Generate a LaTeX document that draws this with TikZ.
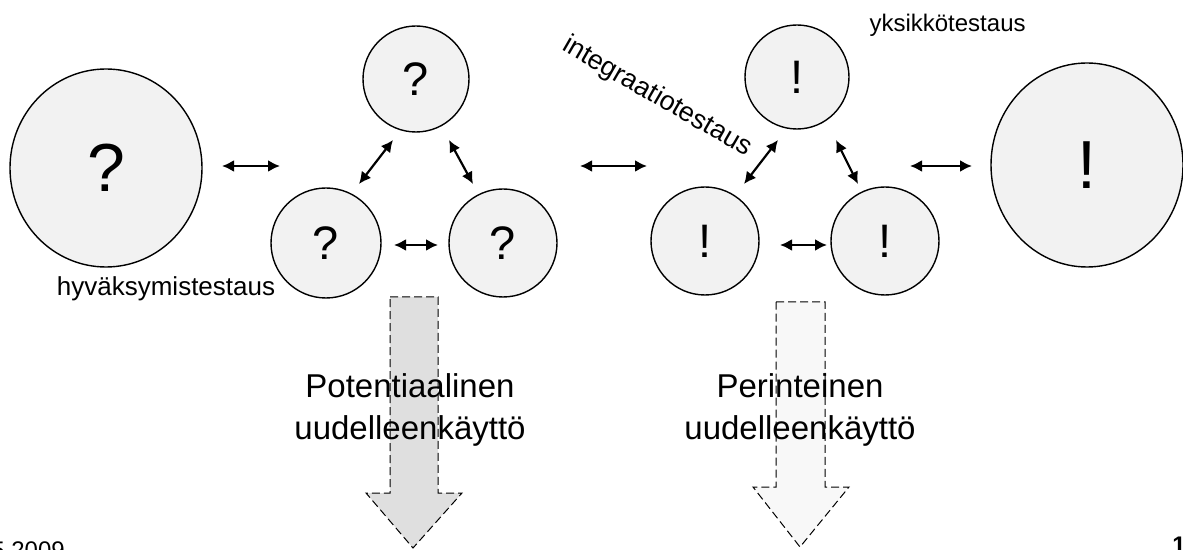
\documentclass[tikz,border=0pt]{standalone}
\usepackage{fontspec}
\setmainfont{Liberation Sans}
\usetikzlibrary{arrows.meta,shapes.geometric}
\definecolor{bubfill}{HTML}{F2F2F2}
\definecolor{potfill}{HTML}{DFDFDF}
\definecolor{perfill}{HTML}{F8F8F8}
\begin{document}
\begin{tikzpicture}[x=0.5pt,y=-0.5pt,
  bub/.style={circle,draw,line width=0.7pt,fill=bubfill,inner sep=0pt,minimum size=#1pt,font=\fontsize{23.5}{28}\selectfont},
  bigbub/.style={ellipse,draw,line width=0.7pt,fill=bubfill,inner sep=0pt,minimum width=96pt,minimum height=#1pt,font=\fontsize{34}{40}\selectfont},
  link/.style={line width=1.1pt,{Latex[length=6pt,width=6pt]}-{Latex[length=6pt,width=6pt]}},
  bigarrow/.style={draw,line width=0.5pt,dash pattern=on 4pt off 2pt,fill=#1},
  lbl/.style={inner sep=0pt,font=\fontsize{13}{15}\selectfont},
  big/.style={inner sep=0pt,font=\fontsize{16.5}{20}\selectfont,anchor=base},
  foot/.style={inner sep=0pt,font=\fontsize{12}{14}\selectfont}]
\useasboundingbox (0,0) rectangle (1183,550);

% bubbles
\node[bigbub=99] (qbig) at (106,168) {?};
\node[bub=53] (qtop) at (416,79) {?};
\node[bub=55] (qleft) at (326,243) {?};
\node[bub=54] (qright) at (503,243) {?};
\node[bub=52] (etop) at (797,77) {!};
\node[bub=54] (eleft) at (705,241) {!};
\node[bub=54] (eright) at (885,241) {!};
\node[bigbub=102] (ebig) at (1087,165) {!};

% arrow end points
\coordinate (a1s) at (222,166); \coordinate (a1e) at (280,166);
\coordinate (a2s) at (393,140); \coordinate (a2e) at (359,184);
\coordinate (a3s) at (449,140); \coordinate (a3e) at (473,184);
\coordinate (a4s) at (394,245); \coordinate (a4e) at (438,245);
\coordinate (a5s) at (580,166); \coordinate (a5e) at (647,166);
\coordinate (a6s) at (778,140); \coordinate (a6e) at (744,184);
\coordinate (a7s) at (836,140); \coordinate (a7e) at (858,184);
\coordinate (a8s) at (780,245); \coordinate (a8e) at (827,245);
\coordinate (a9s) at (910,166); \coordinate (a9e) at (972,166);
\foreach \i in {1,...,9} {\draw[link] (a\i s) -- (a\i e);}

% big dashed arrows
\draw[bigarrow=potfill] (390,297) -- (438,297) -- (438,493) -- (462,493) -- (413,548) -- (366,493) -- (390,493) -- cycle;
\draw[bigarrow=perfill] (776,302) -- (825,302) -- (825,487) -- (849,487) -- (800,547) -- (753,487) -- (776,487) -- cycle;

% texts
\node[big] (pot1) at (410,398) {Potentiaalinen};
\node[big] (pot2) at (410,440) {uudelleenkäyttö};
\node[big] (per1) at (800,398) {Perinteinen};
\node[big] (per2) at (800,440) {uudelleenkäyttö};

\node[lbl,anchor=base] (hyv) at (166,296) {hyväksymistestaus};
\node[lbl,anchor=base east,font=\fontsize{12}{14}\selectfont] (yks) at (1026,32) {yksikkötestaus};
\node[lbl,rotate=-30,font=\fontsize{13.5}{16}\selectfont] (int) at (657,97) {integraatiotestaus};

\node[foot,anchor=base west] (year) at (-9,558) {5 2009};
\node[foot,anchor=base west,font=\fontsize{12}{14}\selectfont\bfseries] (page) at (1172,553) {1};
\end{tikzpicture}
\end{document}
